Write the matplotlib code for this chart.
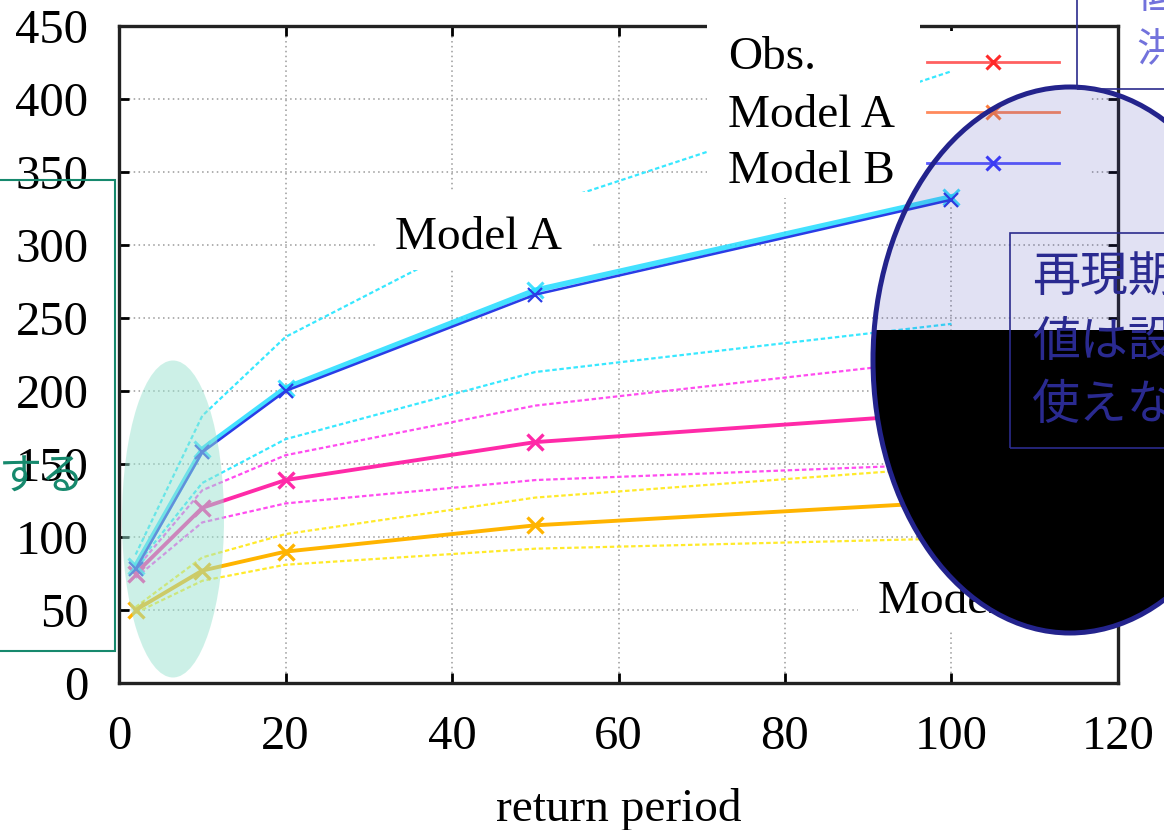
import matplotlib
matplotlib.use("Agg")
import matplotlib.pyplot as plt
from matplotlib.lines import Line2D
from matplotlib.patches import Ellipse, Rectangle

# ---- data -------------------------------------------------------------
return_period = [2, 10, 20, 50, 100]

blue_main = [78, 158, 200, 266, 331]
cyan_main = [80, 160, 202, 269, 333]
cyan_upper = [88, 183, 237, 325, 419]
cyan_lower = [80, 137, 167, 213, 246]

pink_main = [75, 120, 139, 165, 185]
pink_upper = [78, 132, 156, 190, 222]
pink_lower = [72, 110, 123, 139, 150]

orange_main = [50, 77, 90, 108, 124]
yellow_upper = [52, 86, 102, 127, 148]
yellow_lower = [48, 70, 81, 92, 99]

legend_names = ["Obs.", "Model A", "Model B"]
legend_colors = ["#ff6060", "#ff8a5c", "#5a5aff"]
legend_marker_colors = ["#ff2a2a", "#ff8040", "#3a3aff"]

xticks = [0, 20, 40, 60, 80, 100, 120]
yticks = [0, 50, 100, 150, 200, 250, 300, 350, 400, 450]

# ---- figure -----------------------------------------------------------
W, H = 1164, 830
fig = plt.figure(figsize=(W / 100, H / 100), dpi=100)
serif = "Liberation Serif"
cjk = ["Noto Sans CJK JP", "DejaVu Sans"]


def fx(x):
    return x / W


def fy(y):
    return 1 - y / H


ax = fig.add_axes([fx(119), fy(683), (1118 - 119) / W, (683 - 26) / H])
ax.set_xlim(0, 120)
ax.set_ylim(0, 450)
ax.set_xticks(xticks)
ax.set_yticks(yticks)
ax.tick_params(which="both", direction="in", length=7, width=2,
               top=True, right=True, labelsize=35)
ax.tick_params(axis="x", pad=23)
ax.tick_params(axis="y", pad=22)
for lab in ax.get_xticklabels() + ax.get_yticklabels():
    lab.set_fontfamily(serif)
for sp in ax.spines.values():
    sp.set_linewidth(2.4)
    sp.set_color("#222222")
ax.grid(True, color="#9a9a9a", linestyle=(0, (1, 2.2)), linewidth=1.1)
ax.set_axisbelow(True)
ax.set_xlabel("return period", fontfamily=serif, fontsize=34, labelpad=21)

dot = (0, (2.0, 1.2))
ax.plot(return_period, cyan_upper, color="#38e8ff", lw=1.6, ls=dot, zorder=6)
ax.plot(return_period, cyan_lower, color="#38e8ff", lw=1.6, ls=dot, zorder=2)
ax.plot(return_period, pink_upper, color="#ff4cf0", lw=1.6, ls=dot, zorder=2)
ax.plot(return_period, pink_lower, color="#ff4cf0", lw=1.6, ls=dot, zorder=2)
ax.plot(return_period, yellow_upper, color="#ffea2a", lw=1.6, ls=dot, zorder=2)
ax.plot(return_period, yellow_lower, color="#ffea2a", lw=1.6, ls=dot, zorder=2)

ax.plot(return_period, cyan_main, color="#22dcff", lw=4.0, marker="x",
        ms=11, mew=2.2, alpha=0.85, zorder=6)
ax.plot(return_period, blue_main, color="#2a3ce6", lw=1.8, marker="x",
        ms=10, mew=1.6, zorder=7)
ax.plot(return_period, pink_main, color="#ff2aa8", lw=2.8, marker="x",
        ms=11, mew=2.4, zorder=3)
ax.plot(return_period, orange_main, color="#ffb400", lw=2.8, marker="x",
        ms=11, mew=2.4, zorder=3)

# key: line samples only, names are written in the white box to the left
handles = [Line2D([], [], color=c, lw=2.0, marker="x", ms=10, mew=2.2,
                  markeredgecolor=mc)
           for c, mc in zip(legend_colors, legend_marker_colors)]
leg = ax.legend(handles, ["", "", ""], loc="upper right",
                bbox_to_anchor=(fx(1090), fy(31)), bbox_transform=fig.transFigure,
                borderaxespad=0, frameon=True, fancybox=False, framealpha=1,
                facecolor="white", edgecolor="none", numpoints=1,
                prop={"family": serif, "size": 34}, handlelength=2.8,
                handletextpad=0.35, borderpad=0.3, labelspacing=0.16)
leg.set_zorder(5)


# ---- overlays ---------------------------------------------------------
def rect(x0, y0, x1, y1, **kw):
    r = Rectangle((fx(x0), fy(y1)), (x1 - x0) / W, (y1 - y0) / H,
                  transform=fig.transFigure, **kw)
    fig.add_artist(r)
    return r


def ellipse(cx, cy, w, h, **kw):
    e = Ellipse((fx(cx), fy(cy)), w / W, h / H, transform=fig.transFigure, **kw)
    fig.add_artist(e)
    return e


# white label boxes
rect(707, -5, 920, 198, facecolor="white", edgecolor="none", zorder=2)
for name, yb in zip(legend_names, [69, 127, 183]):
    fig.text(fx(728), fy(yb), name, fontfamily=serif, fontsize=34,
             va="baseline", ha="left", zorder=3)

rect(375, 192, 590, 270, facecolor="white", edgecolor="none", zorder=2)
fig.text(fx(395), fy(249), "Model A", fontfamily=serif, fontsize=34,
         va="baseline", ha="left", zorder=3)

rect(858, 572, 1020, 632, facecolor="white", edgecolor="none", zorder=2)
fig.text(fx(878), fy(613), "Model B", fontfamily=serif, fontsize=34,
         va="baseline", ha="left", zorder=3)

# highlight of the short return periods
ellipse(173, 519, 102, 317, facecolor="#9be3d0", edgecolor="none",
        alpha=0.5, zorder=4)
rect(-10, 180, 115, 651, facecolor="none", edgecolor="#16896d", lw=1.5,
     zorder=5)
fig.text(fx(85), fy(478), "する", family=cjk, fontsize=31, color="#16896d",
         ha="right", va="center", zorder=6)

# long return period region
ellipse(1070, 360, 394, 546, facecolor="#3a3ab0", edgecolor="none",
        alpha=0.15, zorder=10)
dark = ellipse(1070, 360, 394, 546, facecolor="black", edgecolor="none",
               zorder=11)
clip = Rectangle((fx(840), fy(700)), 400 / W, (700 - 330) / H,
                 transform=fig.transFigure)
dark.set_clip_path(clip)
ellipse(1070, 360, 394, 546, facecolor="none", edgecolor="#23238c",
        lw=3.6, zorder=12)

rect(1010, 233, 1220, 448, facecolor="none", edgecolor="#2b2b8c", lw=1.2,
     zorder=13)
for line, yc in zip(["再現期間", "値は設計", "使えない"], [278, 342, 405]):
    fig.text(fx(1032), fy(yc), line, family=cjk, fontsize=34.5,
             color="#2a2a90", ha="left", va="center", zorder=14)

rect(1077, -20, 1220, 89, facecolor="none", edgecolor="#2b2b8c", lw=1.2,
     zorder=13)
for line, yc in zip(["低", "洪"], [-4, 50]):
    fig.text(fx(1136), fy(yc), line, family=cjk, fontsize=29,
             color="#7272dc", ha="left", va="center", zorder=14)

fig.savefig("out.png", dpi=100)
